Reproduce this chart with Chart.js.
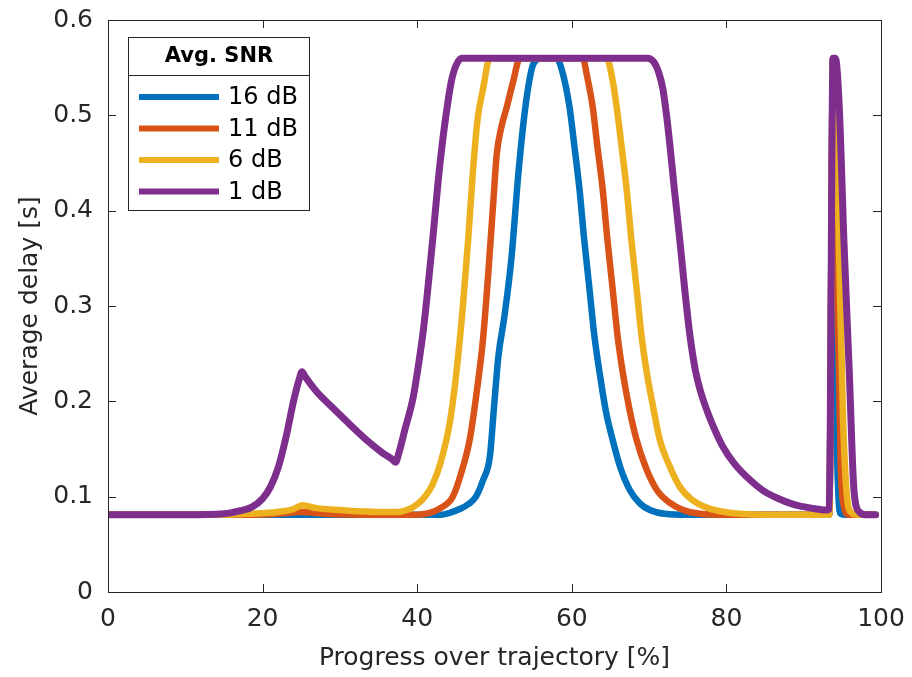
<!DOCTYPE html>
<html>
<head>
<meta charset="utf-8">
<script src="https://cdn.jsdelivr.net/npm/chart.js@4.4.1/dist/chart.umd.min.js"></script>
<style>
  html, body { margin: 0; padding: 0; background: #fff; }
  #wrap { width: 912px; height: 677px; }
</style>
</head>
<body>
<div id="wrap"><canvas id="delayChart" width="912" height="677"></canvas></div>
<script>
// series labels and colours (MATLAB default order)
const seriesLabels = ["16 dB", "11 dB", "6 dB", "1 dB"];
const seriesColors = ["#0072BD", "#D95319", "#EDB120", "#7E2F8E"];

const xTicks = [0, 20, 40, 60, 80, 100];
const yTicks = [0, 0.1, 0.2, 0.3, 0.4, 0.5, 0.6];

// 16 dB
const x16 = [0, 43, 44.2, 45.5, 46.6, 47.6, 48.5, 49.4, 49.9, 50.5, 51.3, 52.2, 53.1, 54.0, 54.9, 55.6, 56.2, 58.0, 58.7, 59.7, 60.3, 61.0, 61.6, 62.3, 62.9, 63.6, 64.4, 65.3, 66.3, 67.5, 68.8, 70.1, 72, 75, 93.3, 93.8, 94.0, 94.2, 94.5, 94.8, 95.5, 99.3];
const y16 = [0.081, 0.081, 0.083, 0.087, 0.092, 0.100, 0.117, 0.142, 0.190, 0.247, 0.290, 0.351, 0.440, 0.509, 0.551, 0.559, 0.560, 0.560, 0.548, 0.509, 0.470, 0.422, 0.370, 0.317, 0.270, 0.230, 0.190, 0.159, 0.130, 0.107, 0.093, 0.086, 0.082, 0.081, 0.081, 0.560, 0.400, 0.200, 0.100, 0.082, 0.081, 0.081];

// 11 dB
const x11 = [0, 18, 22, 25.1, 28, 35, 40, 41.6, 43, 44.6, 45.7, 46.8, 47.7, 48.5, 49.2, 49.8, 50.3, 50.9, 51.6, 52.4, 53.3, 61.4, 62.0, 62.7, 63.3, 64.0, 64.6, 65.3, 65.9, 66.6, 67.5, 68.4, 69.6, 71.0, 72.6, 74.4, 76.6, 80, 93.3, 93.8, 94.1, 94.4, 94.8, 95.2, 95.8, 99.3];
const y11 = [0.081, 0.081, 0.082, 0.084, 0.082, 0.081, 0.081, 0.083, 0.088, 0.100, 0.125, 0.160, 0.210, 0.264, 0.335, 0.404, 0.460, 0.488, 0.509, 0.535, 0.560, 0.560, 0.540, 0.509, 0.468, 0.422, 0.370, 0.317, 0.270, 0.230, 0.190, 0.159, 0.130, 0.107, 0.094, 0.086, 0.082, 0.081, 0.081, 0.560, 0.500, 0.300, 0.130, 0.090, 0.081, 0.081];

// 6 dB
const x6 = [0, 15, 18, 22, 24, 25.1, 27, 30, 35, 37.5, 39, 40, 41, 42, 43, 44.2, 45, 45.9, 46.6, 47.2, 47.8, 48.5, 49.4, 64.5, 65.2, 65.8, 66.4, 67.1, 67.7, 68.4, 69.0, 69.7, 70.5, 71.4, 72.6, 74.0, 75.5, 77, 79, 81.8, 85, 93.3, 93.8, 94.2, 94.6, 95.1, 95.6, 96.2, 97, 99.3];
const y6 = [0.081, 0.081, 0.082, 0.084, 0.087, 0.091, 0.088, 0.086, 0.084, 0.084, 0.087, 0.092, 0.100, 0.113, 0.135, 0.177, 0.225, 0.299, 0.370, 0.440, 0.495, 0.527, 0.560, 0.560, 0.540, 0.509, 0.470, 0.422, 0.370, 0.317, 0.270, 0.230, 0.195, 0.159, 0.133, 0.110, 0.097, 0.090, 0.085, 0.082, 0.081, 0.081, 0.560, 0.500, 0.350, 0.180, 0.100, 0.083, 0.081, 0.081];

// 1 dB
const x1 = [0, 10, 15, 17, 18.6, 20, 21, 22, 23.1, 24, 24.7, 25.1, 25.5, 27, 29.1, 31, 33.5, 35.5, 36.8, 37.2, 37.6, 38.4, 39.5, 40.2, 40.8, 41.4, 42, 42.7, 43.3, 43.9, 44.4, 45, 45.8, 50, 60, 69.8, 70.6, 71.2, 71.8, 72.3, 72.7, 73.3, 74, 74.6, 75.3, 76, 76.6, 77.5, 78.5, 79.5, 81, 83, 85, 87, 89, 91, 92.9, 93.3, 93.8, 94.1, 94.6, 95.2, 95.9, 96.5, 97.2, 98, 99.3];
const y1 = [0.081, 0.081, 0.082, 0.085, 0.089, 0.098, 0.110, 0.130, 0.165, 0.200, 0.222, 0.231, 0.226, 0.210, 0.193, 0.178, 0.159, 0.146, 0.139, 0.136, 0.145, 0.170, 0.205, 0.240, 0.275, 0.320, 0.369, 0.430, 0.474, 0.510, 0.535, 0.552, 0.560, 0.560, 0.560, 0.560, 0.556, 0.546, 0.527, 0.497, 0.468, 0.420, 0.367, 0.318, 0.268, 0.232, 0.212, 0.190, 0.170, 0.153, 0.135, 0.118, 0.105, 0.097, 0.091, 0.088, 0.086, 0.087, 0.560, 0.560, 0.509, 0.369, 0.230, 0.107, 0.084, 0.081, 0.081];

const seriesX = [x16, x11, x6, x1];
const seriesY = [y16, y11, y6, y1];

const axisColor = "#262626";
const fontFamily = "'DejaVu Sans', sans-serif";

// box, inward ticks and the titled legend, drawn on top like MATLAB
const matlabAxes = {
  id: "matlabAxes",
  afterDatasetsDraw(chart) {
    const ctx = chart.ctx;
    const a = chart.chartArea;
    const xs = chart.scales.x;
    const ys = chart.scales.y;
    const tl = 8;
    ctx.save();
    ctx.strokeStyle = axisColor;
    ctx.lineWidth = 1;
    ctx.beginPath();
    xTicks.forEach(function (v) {
      const px = Math.round(xs.getPixelForValue(v)) + 0.5;
      ctx.moveTo(px, a.bottom); ctx.lineTo(px, a.bottom - tl);
      ctx.moveTo(px, a.top); ctx.lineTo(px, a.top + tl);
    });
    yTicks.forEach(function (v) {
      const py = Math.round(ys.getPixelForValue(v)) + 0.5;
      ctx.moveTo(a.left, py); ctx.lineTo(a.left + tl, py);
      ctx.moveTo(a.right, py); ctx.lineTo(a.right - tl, py);
    });
    ctx.stroke();
    ctx.strokeRect(Math.round(a.left) + 0.5, Math.round(a.top) + 0.5,
      Math.round(a.right - a.left), Math.round(a.bottom - a.top));

    // legend
    const lx = 128.5, ly = 37.5, lw = 181, lh = 173;
    ctx.fillStyle = "#fff";
    ctx.fillRect(lx, ly, lw, lh);
    ctx.strokeRect(lx, ly, lw, lh);
    ctx.beginPath();
    ctx.moveTo(lx, 75.5); ctx.lineTo(lx + lw, 75.5);
    ctx.stroke();
    ctx.fillStyle = "#000";
    ctx.font = "bold 21px " + fontFamily;
    ctx.textAlign = "center";
    ctx.textBaseline = "middle";
    ctx.fillText("Avg. SNR", lx + lw / 2, 57);
    ctx.font = "24px " + fontFamily;
    ctx.textAlign = "left";
    chart.data.datasets.forEach(function (ds, i) {
      const yy = 97 + i * 31.5;
      ctx.strokeStyle = ds.borderColor;
      ctx.lineWidth = 6;
      ctx.beginPath();
      ctx.moveTo(139, yy); ctx.lineTo(219, yy);
      ctx.stroke();
      ctx.fillText(ds.label, 228, yy + 1);
    });
    ctx.restore();
  }
};

new Chart(document.getElementById("delayChart"), {
  type: "scatter",
  data: {
    datasets: seriesLabels.map(function (lab, i) {
      return {
        label: lab,
        data: seriesX[i].map(function (x, j) { return { x: x, y: seriesY[i][j] }; }),
        showLine: true,
        borderColor: seriesColors[i],
        backgroundColor: seriesColors[i],
        borderWidth: i === 3 ? 7 : 6.5,
        borderJoinStyle: "round",
        borderCapStyle: "round",
        pointRadius: 0,
        cubicInterpolationMode: "monotone",
        order: 4 - i
      };
    })
  },
  options: {
    responsive: false,
    animation: false,
    layout: { padding: { top: 20, right: 31, left: 0, bottom: 0 } },
    plugins: {
      legend: { display: false },
      tooltip: { enabled: false }
    },
    scales: {
      x: {
        type: "linear",
        min: 0,
        max: 100,
        border: { display: false },
        grid: { display: false, drawTicks: false },
        afterBuildTicks: function (s) { s.ticks = xTicks.map(function (v) { return { value: v }; }); },
        afterFit: function (s) { s.height = 85; s.paddingLeft = 0; s.paddingRight = 0; },
        ticks: {
          color: axisColor,
          padding: 12,
          maxRotation: 0,
          font: { family: fontFamily, size: 25 }
        },
        title: {
          display: true,
          text: "Progress over trajectory [%]",
          color: axisColor,
          padding: 4,
          font: { family: fontFamily, size: 25 }
        }
      },
      y: {
        type: "linear",
        min: 0,
        max: 0.6,
        border: { display: false },
        grid: { display: false, drawTicks: false },
        afterBuildTicks: function (s) { s.ticks = yTicks.map(function (v) { return { value: v }; }); },
        afterFit: function (s) { s.width = 108; s.paddingTop = 0; s.paddingBottom = 0; },
        ticks: {
          color: axisColor,
          padding: 15,
          font: { family: fontFamily, size: 25 },
          callback: function (v) { return String(Math.round(v * 10) / 10); }
        },
        title: {
          display: true,
          text: "Average delay [s]",
          color: axisColor,
          padding: 15,
          font: { family: fontFamily, size: 25 }
        }
      }
    }
  },
  plugins: [matlabAxes]
});
</script>
</body>
</html>
